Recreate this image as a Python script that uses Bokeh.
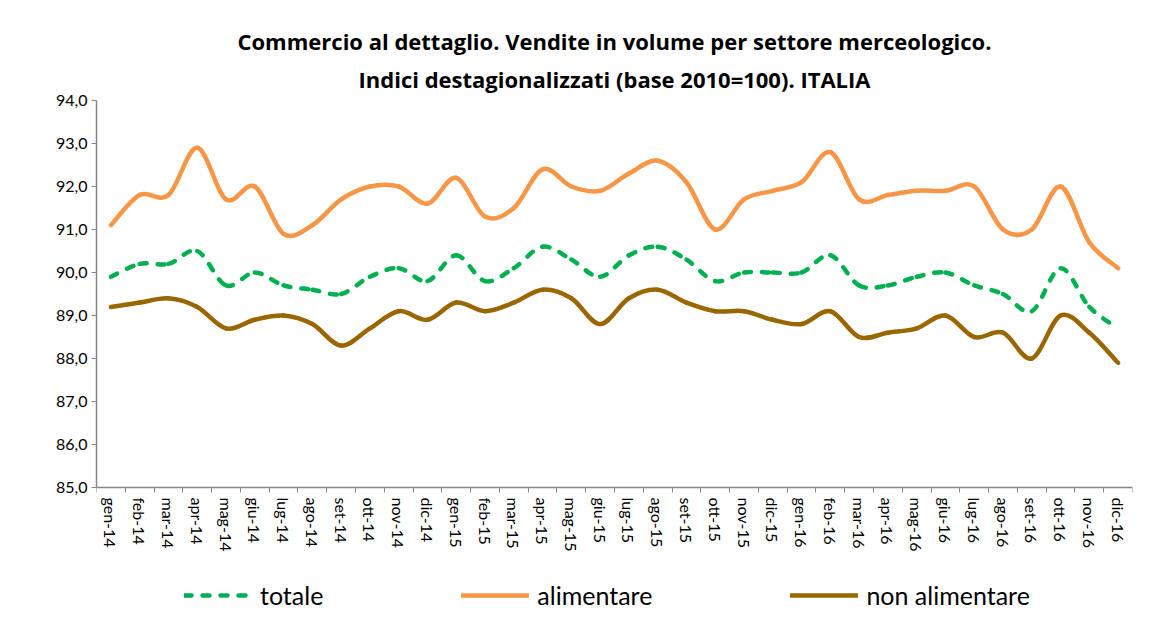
from bokeh.plotting import figure
from bokeh.models import (Range1d, FixedTicker, Legend, LegendItem, Title,
                          CustomJSTickFormatter, ColumnDataSource)
from bokeh.embed import file_html
from bokeh.resources import INLINE

months = ["gen-14", "feb-14", "mar-14", "apr-14", "mag-14", "giu-14", "lug-14", "ago-14",
          "set-14", "ott-14", "nov-14", "dic-14",
          "gen-15", "feb-15", "mar-15", "apr-15", "mag-15", "giu-15", "lug-15", "ago-15",
          "set-15", "ott-15", "nov-15", "dic-15",
          "gen-16", "feb-16", "mar-16", "apr-16", "mag-16", "giu-16", "lug-16", "ago-16",
          "set-16", "ott-16", "nov-16", "dic-16"]

totale = [89.9, 90.2, 90.2, 90.5, 89.7, 90.0, 89.7, 89.6, 89.5, 89.9, 90.1, 89.8,
          90.4, 89.8, 90.1, 90.6, 90.3, 89.9, 90.4, 90.6, 90.3, 89.8, 90.0, 90.0,
          90.0, 90.4, 89.7, 89.7, 89.9, 90.0, 89.7, 89.5, 89.1, 90.1, 89.2, 88.7]

alimentare = [91.1, 91.8, 91.8, 92.9, 91.7, 92.0, 90.9, 91.1, 91.7, 92.0, 92.0, 91.6,
              92.2, 91.3, 91.5, 92.4, 92.0, 91.9, 92.3, 92.6, 92.1, 91.0, 91.7, 91.9,
              92.1, 92.8, 91.7, 91.8, 91.9, 91.9, 92.0, 91.0, 91.0, 92.0, 90.7, 90.1]

non_alimentare = [89.2, 89.3, 89.4, 89.2, 88.7, 88.9, 89.0, 88.8, 88.3, 88.7, 89.1, 88.9,
                  89.3, 89.1, 89.3, 89.6, 89.4, 88.8, 89.4, 89.6, 89.3, 89.1, 89.1, 88.9,
                  88.8, 89.1, 88.5, 88.6, 88.7, 89.0, 88.5, 88.6, 88.0, 89.0, 88.6, 87.9]

y_ticks = [85, 86, 87, 88, 89, 90, 91, 92, 93, 94]
y_min, y_max = 85, 94

series_names = ["totale", "alimentare", "non alimentare"]
series_colors = ["#00B050", "#F79646", "#996600"]

FONT = "Lato"

# plotting area: 387 px for the 85..94 band, plus room below for tick labels and legend
BAND_PX = 387
FRAME_PX = 512
y_start = y_max - (y_max - y_min) * FRAME_PX / BAND_PX


def smooth_source(vals):
    """Bezier segments (Catmull-Rom style control points) through the data points."""
    n = len(vals)
    d = dict(x0=[], y0=[], x1=[], y1=[], cx0=[], cy0=[], cx1=[], cy1=[])
    for i in range(n - 1):
        p0x, p0y = (i - 1, vals[i - 1]) if i > 0 else (i, vals[i])
        p1x, p1y = i, vals[i]
        p2x, p2y = i + 1, vals[i + 1]
        p3x, p3y = (i + 2, vals[i + 2]) if i + 2 < n else (p2x, p2y)
        d["x0"].append(p1x); d["y0"].append(p1y)
        d["x1"].append(p2x); d["y1"].append(p2y)
        d["cx0"].append(p1x + (p2x - p0x) / 6.0); d["cy0"].append(p1y + (p2y - p0y) / 6.0)
        d["cx1"].append(p2x - (p3x - p1x) / 6.0); d["cy1"].append(p2y - (p3y - p1y) / 6.0)
    return ColumnDataSource(d)


p = figure(frame_width=1036, frame_height=FRAME_PX, output_backend="svg", toolbar_location=None,
           x_range=Range1d(-0.5, len(months) - 0.5), y_range=Range1d(y_start, y_max),
           min_border_left=96, min_border_right=10, min_border_top=100, min_border_bottom=0)
p.title = None

p.xgrid.grid_line_color = None
p.ygrid.grid_line_color = None
p.outline_line_color = None
p.background_fill_color = "white"
p.border_fill_color = "white"

# titles (later added appear higher)
p.add_layout(Title(text="Indici destagionalizzati (base 2010=100). ITALIA", align="center",
                   text_font="Open Sans", text_font_size="22px", text_font_style="bold",
                   text_color="black", standoff=13), "above")
p.add_layout(Title(text="Commercio al dettaglio. Vendite in volume per settore merceologico.",
                   align="center", text_font="Open Sans", text_font_size="22px",
                   text_font_style="bold", text_color="black", standoff=0), "above")

axis_color = "#868686"

# y axis
p.yaxis.ticker = FixedTicker(ticks=y_ticks)
p.yaxis.bounds = (y_min, y_max)
p.yaxis.formatter = CustomJSTickFormatter(code="return tick.toFixed(1).replace('.', ',');")
p.yaxis.major_label_text_font = FONT
p.yaxis.major_label_text_font_size = "16px"
p.yaxis.major_label_text_color = "black"
p.yaxis.axis_line_color = axis_color
p.yaxis.major_tick_line_color = axis_color
p.yaxis.major_tick_out = 5
p.yaxis.major_tick_in = 0
p.yaxis.minor_tick_line_color = None
p.yaxis.axis_line_width = 1.5
p.yaxis.major_label_standoff = 4

# x axis, drawn at y = 85
p.xaxis.fixed_location = y_min
p.xaxis.ticker = FixedTicker(ticks=list(range(len(months))),
                             minor_ticks=[i - 0.5 for i in range(len(months) + 1)])
p.xaxis.formatter = CustomJSTickFormatter(args=dict(labels=months),
                                          code="return labels[Math.round(tick)] || '';")
p.xaxis.major_label_orientation = "vertical"
p.xaxis.major_label_text_font = FONT
p.xaxis.major_label_text_font_size = "16px"
p.xaxis.major_label_text_color = "black"
p.xaxis.major_tick_out = 0
p.xaxis.major_tick_in = 0
p.xaxis.minor_tick_out = 5
p.xaxis.minor_tick_in = 0
p.xaxis.minor_tick_line_color = axis_color
p.xaxis.axis_line_color = axis_color
p.xaxis.axis_line_width = 1.5
p.xaxis.major_label_standoff = 5

items = []
for name, vals, color in zip(series_names, [totale, alimentare, non_alimentare], series_colors):
    dash = "7 11" if name == "totale" else "solid"
    src = smooth_source(vals)
    r = p.bezier(x0="x0", y0="y0", x1="x1", y1="y1", cx0="cx0", cy0="cy0", cx1="cx1", cy1="cy1",
                 source=src, line_color=color, line_width=4.5, line_dash=dash, line_cap="round")
    items.append(LegendItem(label=name, renderers=[r], index=0))

legend = Legend(items=items, orientation="horizontal", location=(88, 2),
                label_text_font=FONT, label_text_font_size="25px", label_text_color="black",
                glyph_width=68, glyph_height=24, spacing=138, label_standoff=8,
                border_line_alpha=0, background_fill_alpha=0, padding=0, margin=0)
p.add_layout(legend, "center")

open("out.html", "w").write(file_html(p, INLINE))
